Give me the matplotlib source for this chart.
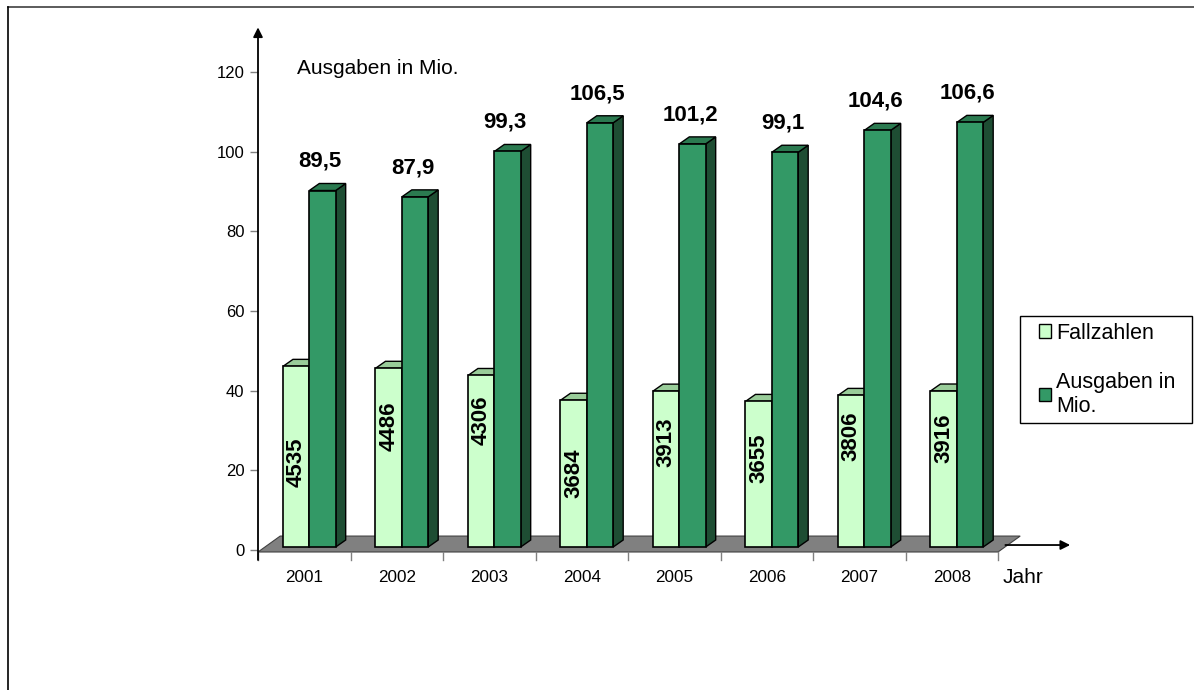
import matplotlib
matplotlib.use("Agg")
import matplotlib.pyplot as plt
from matplotlib.patches import Polygon, Rectangle, Patch
from matplotlib.lines import Line2D

plt.rcParams['font.family'] = ['Liberation Sans', 'DejaVu Sans']

years = ['2001', '2002', '2003', '2004', '2005', '2006', '2007', '2008']
fallzahlen = [4535, 4486, 4306, 3684, 3913, 3655, 3806, 3916]
ausgaben = [89.5, 87.9, 99.3, 106.5, 101.2, 99.1, 104.6, 106.6]
y_ticks = [0, 20, 40, 60, 80, 100, 120]
legend_labels = ['Fallzahlen', 'Ausgaben in\nMio.']

# style / geometry (not data)
label_frac = [0.47, 0.675, 0.74, 0.50, 0.67, 0.61, 0.73, 0.70]
light = '#CCFFCC'
light_top = '#99CC99'
dark = '#339966'
dark_top = '#2B7A50'
dark_side = '#1E4D33'
floor_col = '#808080'
base = 0.75
bw = 0.285
ddx, ddy = 0.108, 1.76      # bar depth offset
fdx, fdy = 0.24, 4.0        # floor depth offset

W, H = 1194, 690
fig = plt.figure(figsize=(W / 100, H / 100), dpi=100)
ppu_x = 92.5
ppu_y = 478 / 120
x0, x1 = -0.5, 8.5
y0, y1 = -10, 135
left_px = 258
bot_px = 550 - y0 * ppu_y
top_px = 550 - y1 * ppu_y
ax = fig.add_axes([left_px / W, (H - bot_px) / H, (x1 - x0) * ppu_x / W, (bot_px - top_px) / H])
ax.set_xlim(x0, x1)
ax.set_ylim(y0, y1)
for s in ax.spines.values():
    s.set_visible(False)
ax.set_xticks([])
ax.set_yticks(y_ticks)
ax.set_yticklabels([str(t) for t in y_ticks])
ax.tick_params(axis='y', length=5.8, color='#808080', width=1, labelsize=12, pad=4)

n = len(years)
# floor
floor = Polygon([(-0.5, -0.5), (n - 0.5, -0.5), (n - 0.5 + fdx, -0.5 + fdy), (-0.5 + fdx, -0.5 + fdy)],
                closed=True, facecolor=floor_col, edgecolor='#404040', lw=0.8, zorder=1)
ax.add_patch(floor)

def box(xl, h, front, top, side, z):
    xr = xl + bw
    ax.add_patch(Polygon([(xr, base), (xr + ddx, base + ddy), (xr + ddx, h + ddy), (xr, h)],
                         closed=True, facecolor=side, edgecolor='black', lw=1, zorder=z))
    ax.add_patch(Polygon([(xl, h), (xr, h), (xr + ddx, h + ddy), (xl + ddx, h + ddy)],
                         closed=True, facecolor=top, edgecolor='black', lw=1, zorder=z))
    ax.add_patch(Rectangle((xl, base), bw, h - base, facecolor=front, edgecolor='black', lw=1.2, zorder=z + 0.1))

for i in range(n):
    hl = base + fallzahlen[i] / 100
    hd = base + ausgaben[i]
    box(i - 0.23, hl, light, light_top, light_top, 2 + i * 0.01)
    box(i - 0.23 + bw, hd, dark, dark_top, dark_side, 3 + i * 0.01)
    ax.text(i - 0.23 + bw / 2, base + (hl - base) * label_frac[i], str(fallzahlen[i]),
            rotation=90, ha='center', va='center', fontsize=16, fontweight='bold', zorder=5)
    ax.text(i + 0.17, hd + ddy + 4.2, f"{ausgaben[i]:.1f}".replace('.', ','),
            ha='center', va='baseline', fontsize=16, fontweight='bold', zorder=5)

# x ticks (category separators) and labels
for k in range(n + 1):
    ax.plot([k - 0.5, k - 0.5], [-0.5, -2.5], color='#808080', lw=1, clip_on=False, zorder=1)
for i, yr in enumerate(years):
    ax.text(i, -7.0, yr, ha='center', va='center', fontsize=12.3)
ax.text(7.77, -7.0, 'Jahr', ha='center', va='center', fontsize=15)

# axes arrows
ax.annotate('', xy=(-0.5, 131.2), xytext=(-0.5, -2.5),
            arrowprops=dict(arrowstyle='-|>', color='black', lw=1.3, mutation_scale=14, shrinkA=0, shrinkB=0))
ax.annotate('', xy=(8.28, 1.25), xytext=(7.58, 1.25),
            arrowprops=dict(arrowstyle='-|>', color='black', lw=1.3, mutation_scale=14, shrinkA=0, shrinkB=0))

ax.text(-0.078, 119.5, 'Ausgaben in Mio.', ha='left', va='baseline', fontsize=15)

# legend (entries via matplotlib legend, frame drawn to match the reference box)
handles = [Patch(facecolor=light, edgecolor='black', lw=1), Patch(facecolor=dark, edgecolor='black', lw=1)]
leg = fig.legend(handles, legend_labels, loc='upper left', bbox_to_anchor=(1031 / W, (H - 315) / H),
                 fontsize=15.5, frameon=False,
                 handlelength=0.6, handleheight=0.6, handletextpad=0.2, labelspacing=1.3,
                 borderpad=0.35, borderaxespad=0)
fig.add_artist(Rectangle((1020 / W, (H - 423) / H), 172 / W, 107 / H, transform=fig.transFigure,
                         facecolor='none', edgecolor='black', lw=1))

# outer frame (top and left only)
fig.add_artist(Line2D([8 / W, 1], [(H - 7) / H, (H - 7) / H], color='#404040', lw=1.2))
fig.add_artist(Line2D([8 / W, 8 / W], [(H - 7) / H, 0], color='black', lw=1.2))

fig.savefig('out.png', dpi=100)
